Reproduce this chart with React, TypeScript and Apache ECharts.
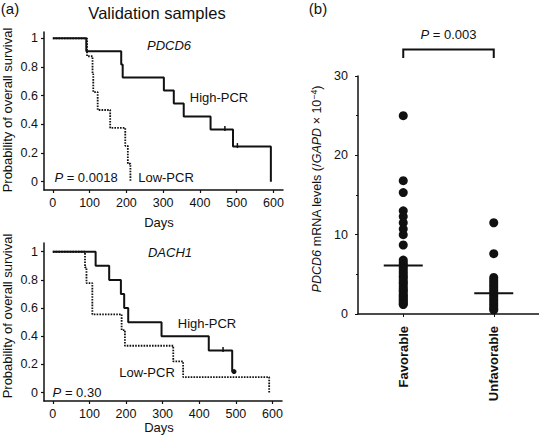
import React, { useEffect, useRef } from "react";
import * as echarts from "echarts";

// ---- Data ----
const dayTicks = [0, 100, 200, 300, 400, 500, 600];
const probTicks = [0, 0.2, 0.4, 0.6, 0.8, 1];

const pdcd6HighDays = [0, 91, 186, 190, 302, 329, 356, 429, 490, 593];
const pdcd6HighSurv = [1, 0.909, 0.818, 0.727, 0.636, 0.545, 0.455, 0.364, 0.245, 0];
const pdcd6HighCensorDays = [468, 502];
const pdcd6HighCensorSurv = [0.364, 0.245];
const pdcd6LowDays = [0, 93, 108, 110, 122, 156, 197, 204, 211];
const pdcd6LowSurv = [1, 0.875, 0.75, 0.625, 0.5, 0.375, 0.25, 0.125, 0];

const dach1HighDays = [0, 117, 154, 186, 195, 206, 297, 426, 490, 495];
const dach1HighSurv = [1, 0.9, 0.8, 0.7, 0.6, 0.5, 0.4, 0.3, 0.15, 0.15];
const dach1HighCensorDays = [465];
const dach1HighCensorSurv = [0.3];
const dach1HighEndDays = [495];
const dach1HighEndSurv = [0.15];
const dach1LowDays = [0, 88, 92, 108, 188, 197, 329, 356, 591];
const dach1LowSurv = [1, 0.889, 0.778, 0.556, 0.444, 0.333, 0.222, 0.111, 0];

const groups = ["Favorable", "Unfavorable"];
const favorableLevels = [
  25.0, 16.8, 15.3, 13.0, 12.3, 11.5, 10.7, 10.0, 8.7, 6.8, 6.5, 6.2, 6.0, 5.7, 5.4, 5.1,
  4.8, 4.6, 4.3, 4.0, 3.8, 3.5, 3.2, 3.0, 2.8, 2.5, 2.3, 2.1, 1.9, 1.7, 1.5, 1.3, 1.2,
];
const unfavorableLevels = [
  11.5, 7.6, 4.6, 4.3, 4.0, 3.7, 3.4, 3.1, 2.8, 2.5, 2.2, 1.9, 1.6, 1.3, 1.0, 0.7, 0.5,
];
const groupMeans = [6.1, 2.6];

// ---- Styles ----
const FONT = "'Liberation Sans', Arial, Helvetica, sans-serif";
const INK = "#111";

const zip = (xs: number[], ys: number[]) => xs.map((x, i) => [x, ys[i]]);

function kmXAxis(gridIndex: number) {
  return {
    type: "value",
    gridIndex,
    min: -24,
    max: 626,
    axisLine: { show: true, onZero: false, lineStyle: { color: INK, width: 1.5 } },
    axisTick: { show: true, length: 3, customValues: dayTicks, lineStyle: { color: INK, width: 1.2 } },
    axisLabel: { customValues: dayTicks, margin: 6, color: INK, fontSize: 12.5, fontFamily: FONT },
    splitLine: { show: false },
  };
}
function kmYAxis(gridIndex: number, min: number, max: number) {
  return {
    type: "value",
    gridIndex,
    min,
    max,
    axisLine: { show: true, onZero: false, lineStyle: { color: INK, width: 1.5 } },
    axisTick: { show: true, length: 3, customValues: probTicks, lineStyle: { color: INK, width: 1.2 } },
    axisLabel: { customValues: probTicks, margin: 6, color: INK, fontSize: 12.5, fontFamily: FONT },
    splitLine: { show: false },
  };
}

const solid = { color: INK, width: 2 };
const dotted = { color: INK, width: 1.8, type: [1.6, 1.2] };

const text = (x: number, y: number, t: string, size = 13, extra: any = {}) => ({
  type: "text",
  x,
  y,
  style: {
    text: t,
    fill: INK,
    font: `${size}px ${FONT}`,
    align: "center",
    verticalAlign: "middle",
    rich: {
      i: { fontStyle: "italic", fontSize: size, fontFamily: FONT, fill: INK },
      n: { fontSize: size, fontFamily: FONT, fill: INK },
      s: { fontSize: size * 0.7, fontFamily: FONT, fill: INK, verticalAlign: "top", padding: [0, 0, 6, 0] },
    },
    ...extra,
  },
});

export default function App() {
  const ref = useRef<HTMLDivElement>(null);
  useEffect(() => {
    const chart = echarts.init(ref.current!, null, { renderer: "svg" });
    const option: any = {
      animation: false,
      backgroundColor: "#fff",
      grid: [
        { left: 44, top: 32, width: 239, height: 158 },
        { left: 44, top: 243, width: 238, height: 158 },
        { left: 358, top: 76, width: 181, height: 238 },
      ],
      xAxis: [
        kmXAxis(0),
        kmXAxis(1),
        {
          type: "category",
          gridIndex: 2,
          data: groups,
          boundaryGap: true,
          axisLine: { show: true, onZero: false, lineStyle: { color: INK, width: 1.5 } },
          axisTick: { show: true, alignWithLabel: true, length: 3, lineStyle: { color: INK } },
          axisLabel: { rotate: 90, margin: 12, color: INK, fontSize: 13, fontWeight: "bold", fontFamily: FONT },
          splitLine: { show: false },
        },
      ],
      yAxis: [
        kmYAxis(0, -0.058, 1.044),
        kmYAxis(1, -0.059, 1.062),
        {
          type: "value",
          gridIndex: 2,
          min: 0,
          max: 30,
          interval: 10,
          axisLine: { show: true, onZero: false, lineStyle: { color: INK, width: 1.5 } },
          axisTick: { show: true, length: 3, lineStyle: { color: INK } },
          minorTick: { show: true, splitNumber: 2, length: 2, lineStyle: { color: INK } },
          axisLabel: { margin: 10, color: INK, fontSize: 12.5, fontFamily: FONT },
          splitLine: { show: false },
          minorSplitLine: { show: false },
        },
      ],
      series: [
        {
          type: "line", xAxisIndex: 0, yAxisIndex: 0, step: "end", symbol: "none",
          data: zip(pdcd6HighDays, pdcd6HighSurv), lineStyle: solid,
        },
        {
          type: "line", xAxisIndex: 0, yAxisIndex: 0, step: "end", symbol: "none",
          data: zip(pdcd6LowDays, pdcd6LowSurv), lineStyle: dotted,
        },
        {
          type: "scatter", xAxisIndex: 0, yAxisIndex: 0, symbol: "rect", symbolSize: [1.5, 5],
          symbolOffset: [0, -1], itemStyle: { color: INK, opacity: 1 },
          data: zip(pdcd6HighCensorDays, pdcd6HighCensorSurv),
        },
        {
          type: "line", xAxisIndex: 1, yAxisIndex: 1, step: "end", symbol: "none",
          data: zip(dach1HighDays, dach1HighSurv), lineStyle: solid,
        },
        {
          type: "line", xAxisIndex: 1, yAxisIndex: 1, step: "end", symbol: "none",
          data: zip(dach1LowDays, dach1LowSurv), lineStyle: dotted,
        },
        {
          type: "scatter", xAxisIndex: 1, yAxisIndex: 1, symbol: "rect", symbolSize: [1.5, 5],
          symbolOffset: [0, -1], itemStyle: { color: INK, opacity: 1 },
          data: zip(dach1HighCensorDays, dach1HighCensorSurv),
        },
        {
          type: "scatter", xAxisIndex: 1, yAxisIndex: 1, symbol: "circle", symbolSize: 5,
          itemStyle: { color: INK, opacity: 1 },
          data: zip(dach1HighEndDays, dach1HighEndSurv),
        },
        {
          type: "scatter", xAxisIndex: 2, yAxisIndex: 2, symbol: "circle", symbolSize: 9,
          itemStyle: { color: INK, opacity: 1 },
          data: [
            ...favorableLevels.map((v) => [groups[0], v]),
            ...unfavorableLevels.map((v) => [groups[1], v]),
          ],
        },
        {
          type: "scatter", xAxisIndex: 2, yAxisIndex: 2, symbol: "rect", symbolSize: [39, 2],
          itemStyle: { color: INK, opacity: 1 }, z: 3,
          data: groups.map((g, i) => [g, groupMeans[i]]),
        },
      ],
    };
    chart.setOption(option);

    const pL = chart.convertToPixel({ gridIndex: 2 }, [groups[0], 30]) as number[];
    const pR = chart.convertToPixel({ gridIndex: 2 }, [groups[1], 30]) as number[];
    const xl = pL[0];
    const xr = pR[0];

    const rot = (x: number, y: number, t: string, size: number) => ({
      ...text(x, y, t, size),
      rotation: Math.PI / 2,
    });

    chart.setOption({
      graphic: [
        text(10, 8, "(a)", 15),
        text(157, 13, "Validation samples", 16.5),
        text(318, 8, "(b)", 15),
        rot(7, 110, "Probability of overall survival", 13),
        rot(7, 316, "Probability of overall survival", 13),
        text(169, 45, "{i|PDCD6}", 13),
        text(219, 97, "High-PCR", 13),
        text(166, 177, "Low-PCR", 13),
        text(86, 177, "{i|P} = 0.0018", 13),
        text(159, 222, "Days", 13),
        text(170, 252, "{i|DACH1}", 13),
        text(207, 323, "High-PCR", 13),
        text(147, 372, "Low-PCR", 13),
        text(77, 392, "{i|P} = 0.30", 13),
        text(159, 427, "Days", 13),
        rot(317, 189, "{i|PDCD6} mRNA levels (/{i|GAPD} × 10{s|−4})", 12.5),
        text((xl + xr) / 2, 34, "{i|P} = 0.003", 13),
        {
          type: "polyline",
          shape: { points: [[xl, 58], [xl, 49.5], [xr, 49.5], [xr, 58]] },
          style: { stroke: INK, lineWidth: 2, fill: "none" },
        },
      ],
    });

    return () => chart.dispose();
  }, []);
  return (
    <div
      ref={ref}
      style={{ position: "absolute", left: 0, top: 0, width: 539, height: 442, background: "#fff" }}
    />
  );
}
